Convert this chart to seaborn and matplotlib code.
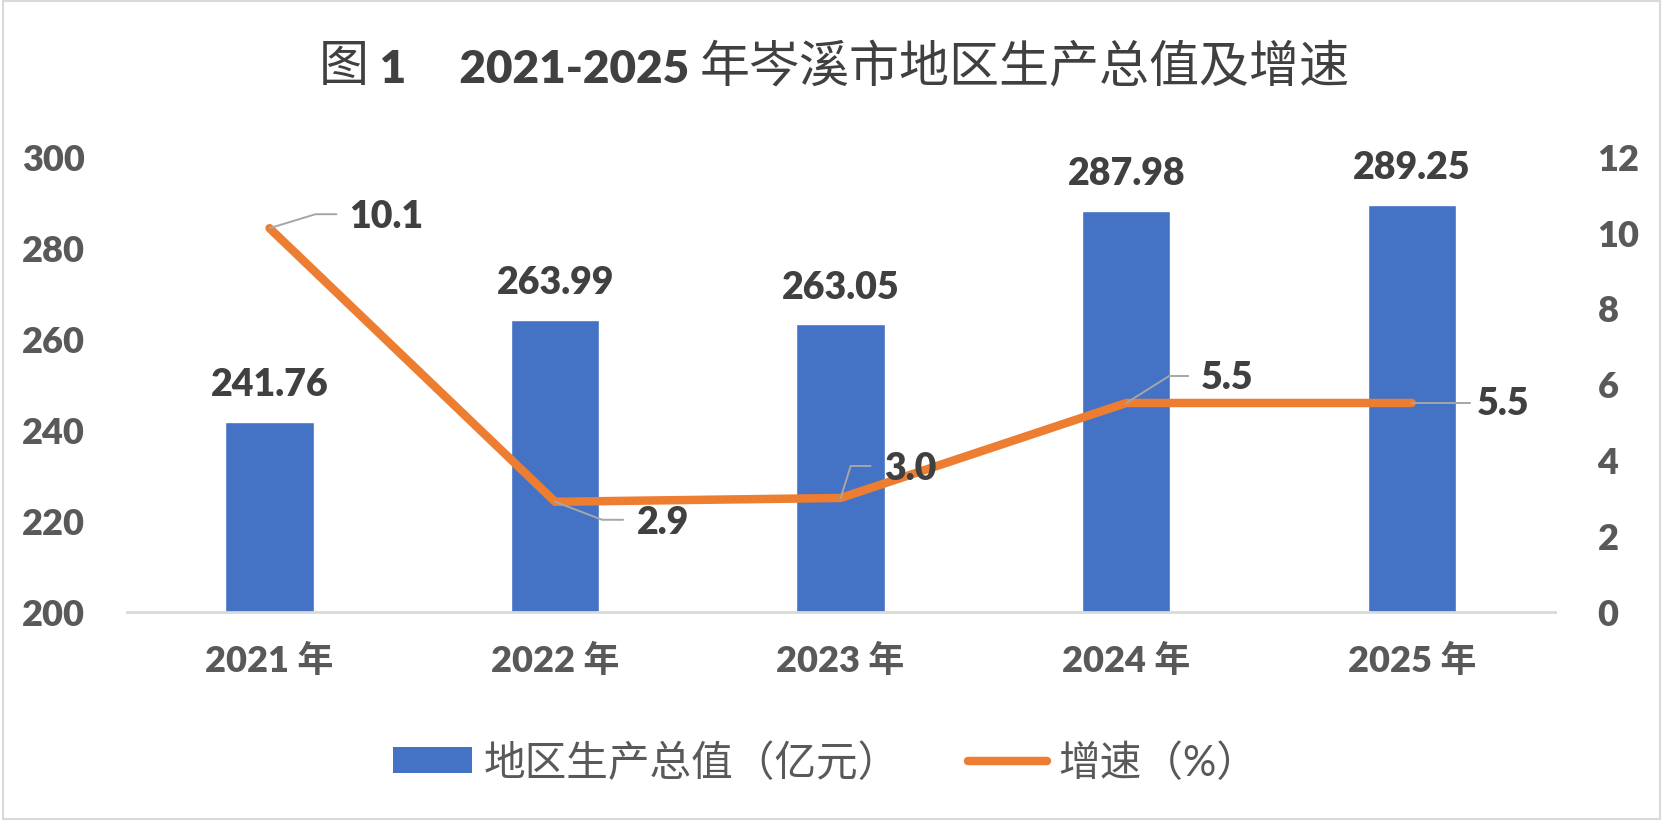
import matplotlib

matplotlib.use("Agg")
import matplotlib.pyplot as plt
import matplotlib.transforms as mtransforms
import numpy as np
import seaborn as sns
from matplotlib.lines import Line2D
from matplotlib.patches import Patch, Rectangle

sns.set_theme(style="white")
plt.rcParams["font.family"] = ["Lato", "Noto Sans CJK SC", "DejaVu Sans"]

# данные
years = ["2021 年", "2022 年", "2023 年", "2024 年", "2025 年"]
gdp = [241.76, 263.99, 263.05, 287.98, 289.25]
growth = [10.1, 2.9, 3.0, 5.5, 5.5]
growth_labels = ["10.1", "2.9", "3.0", "5.5", "5.5"]
gdp_ticks = [200, 220, 240, 260, 280, 300]
growth_ticks = [0, 2, 4, 6, 8, 10, 12]

# положение подписей линии (пиксели от точки): текст, излом выноски, конец выноски
label_offsets = [(80, 12), (82, -20), (43, 30), (75, 26), (65, 0)]
leader_bends = [(46, 14), (47, -18), (10, 32), (43, 27), (50, 0)]
leader_ends = [(67, 14), (68, -18), (30, 32), (62, 27), (58, 0)]

BLUE = "#4472C4"
ORANGE = "#ED7D31"
DARK = "#404040"
GRAY = "#595959"
NUM_WEIGHT = "heavy"

fig = plt.figure(figsize=(16.68, 8.29), dpi=100)
ax = fig.add_axes([0.076, 0.2606, 0.856, 0.55])

# 1 столбцы
sns.barplot(x=years, y=gdp, ax=ax, color=BLUE, saturation=1, width=0.31)
ax.set_xlim(-0.5, 4.5)
ax.set_ylim(200, 300)
ax.set_xticks(range(len(years)), years, fontsize=26, fontweight=NUM_WEIGHT, color=GRAY)
ax.set_yticks(gdp_ticks, [str(t) for t in gdp_ticks], fontsize=26, fontweight=NUM_WEIGHT, color=GRAY)
ax.tick_params(axis="both", length=0)
ax.tick_params(axis="x", pad=22)
ax.tick_params(axis="y", pad=30)
ax.set_xlabel("")
ax.set_ylabel("")
for side in ["top", "left", "right"]:
    ax.spines[side].set_visible(False)
ax.spines["bottom"].set_color("#D9D9D9")
ax.spines["bottom"].set_linewidth(2)
ax.bar_label(
    ax.containers[0],
    labels=[f"{v:.2f}" for v in gdp],
    padding=15,
    fontsize=27,
    fontweight=NUM_WEIGHT,
    color=DARK,
)

# 2 линия темпов роста
ax2 = ax.twinx()
sns.lineplot(x=np.arange(len(growth)), y=growth, ax=ax2, color=ORANGE, linewidth=6.1)
ax2.set_ylim(0, 12)
ax2.set_yticks(growth_ticks, [str(t) for t in growth_ticks], fontsize=26, fontweight=NUM_WEIGHT, color=GRAY)
ax2.tick_params(axis="y", length=0, pad=31)
ax2.set_ylabel("")
ax2.grid(False)
for side in ax2.spines:
    ax2.spines[side].set_visible(False)
ax.set_xlim(-0.5, 4.5)

for i, (g, lab) in enumerate(zip(growth, growth_labels)):
    dx, dy = label_offsets[i]
    ax2.annotate(
        lab,
        xy=(i, g),
        xytext=(dx, dy),
        textcoords="offset pixels",
        ha="left",
        va="center",
        fontsize=27,
        fontweight=NUM_WEIGHT,
        color=DARK,
    )
    trans = mtransforms.IdentityTransform() + mtransforms.ScaledTranslation(i, g, ax2.transData)
    bx, by = leader_bends[i]
    ex, ey = leader_ends[i]
    fig.add_artist(
        Line2D([0, bx, ex], [0, by, ey], transform=trans, color="#A6A6A6", lw=1.4, clip_on=False)
    )

# 3 заголовок из трёх частей (цифры жирные)
t1 = fig.text(0.2, 0.891, "图", fontsize=36, color=DARK, ha="left", va="bottom")
t2 = ax.annotate(
    " 1     2021-2025 ",
    xy=(1, 0),
    xycoords=t1,
    ha="left",
    va="bottom",
    fontsize=33,
    fontweight=NUM_WEIGHT,
    color=DARK,
)
t3 = ax.annotate(
    "年岑溪市地区生产总值及增速",
    xy=(1, 0),
    xycoords=t2,
    ha="left",
    va="bottom",
    fontsize=36,
    color=DARK,
)

# 4 легенда
handles = [
    Patch(facecolor=BLUE, edgecolor="none"),
    Line2D([], [], color=ORANGE, lw=6.1, solid_capstyle="round"),
]
fig.legend(
    handles,
    ["地区生产总值（亿元）", "增速（%）"],
    loc="center",
    bbox_to_anchor=(0.495, 0.08),
    ncol=2,
    frameon=False,
    fontsize=30,
    handlelength=1.9,
    handleheight=0.58,
    handletextpad=0.26,
    columnspacing=1.65,
    labelcolor=GRAY,
)

fig.add_artist(
    Rectangle(
        (0.002, 0.011), 0.993, 0.986, transform=fig.transFigure, fill=False, edgecolor="#D9D9D9", lw=1.5
    )
)

# центрирование заголовка
fig.canvas.draw()
renderer = fig.canvas.get_renderer()
left = t1.get_window_extent(renderer).x0
right = t3.get_window_extent(renderer).x1
width_px = fig.bbox.width
t1.set_x(0.5 - (right - left) / width_px / 2)

fig.savefig("out.png", dpi=100)
